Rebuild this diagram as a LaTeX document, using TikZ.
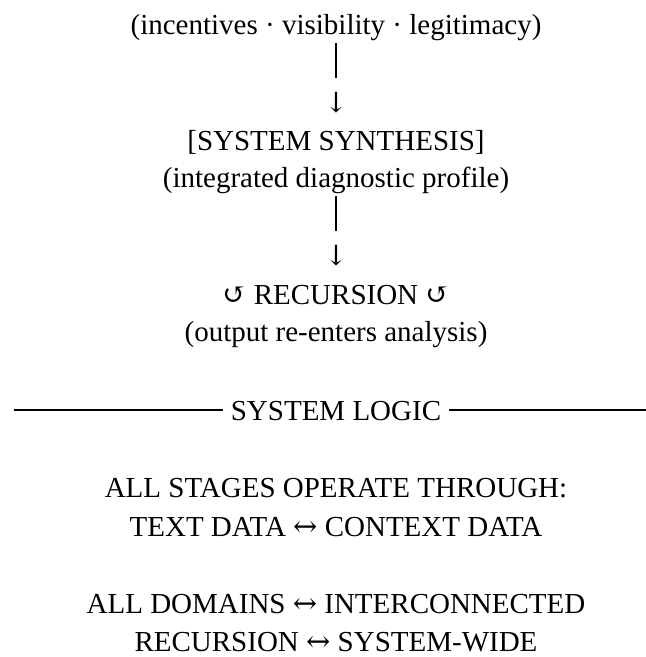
\documentclass[tikz,border=0pt]{standalone}
\usepackage{fontspec}
\setmainfont{Liberation Serif}
\newfontfamily\symfont{DejaVu Serif}
\newcommand{\lrarr}{{\symfont ↔}}
\begin{document}
\begin{tikzpicture}[x=1pt,y=-1pt,
  txt/.style={anchor=base,inner sep=0pt,font=\fontsize{29}{35}\selectfont},
  bar/.style={line width=2.7pt},
  rule/.style={line width=2.6pt}]
\useasboundingbox (0,0) rectangle (646,657);
% top block
\node[txt] (inc) at (336,34) {(incentives · visibility · legitimacy)};
\coordinate (b1t) at (336,43);
\coordinate (b1b) at (336,78);
\draw[bar] (b1t) -- (b1b);
\node[txt,font=\fontsize{28}{34}\symfont] (a1) at (336,112) {↓};
\node[txt] (ss) at (336,150) {[SYSTEM SYNTHESIS]};
\node[txt] (idp) at (336,187) {(integrated diagnostic profile)};
\coordinate (b2t) at (336,196);
\coordinate (b2b) at (336,231);
\draw[bar] (b2t) -- (b2b);
\node[txt,font=\fontsize{28}{34}\symfont] (a2) at (336,265) {↓};
\node[txt] (rec) at (336,304) {{\symfont ↺} RECURSION {\symfont ↺}};
\node[txt] (out) at (336,341) {(output re-enters analysis)};
% system logic rule
\node[txt,inner xsep=8pt] (logic) at (336,420) {SYSTEM LOGIC};
\coordinate (ruleL) at (14,410);
\coordinate (ruleR) at (646,410);
\draw[rule] (ruleL) -- (ruleL -| logic.west);
\draw[rule] (ruleR -| logic.east) -- (ruleR);
% bottom block
\node[txt] (st) at (336,497) {ALL STAGES OPERATE THROUGH:};
\node[txt] (td) at (336,536) {TEXT DATA \lrarr{} CONTEXT DATA};
\node[txt] (dom) at (336,613) {ALL DOMAINS \lrarr{} INTERCONNECTED};
\node[txt] (rsw) at (336,651) {RECURSION \lrarr{} SYSTEM-WIDE};
\end{tikzpicture}
\end{document}
